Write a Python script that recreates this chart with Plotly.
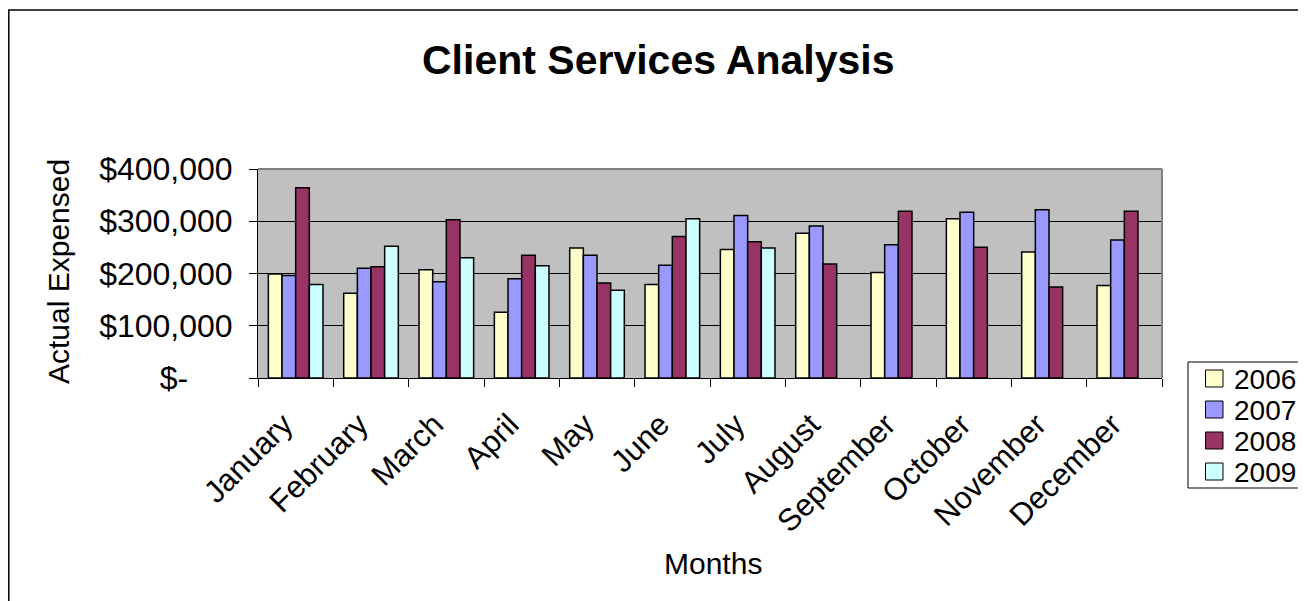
import plotly.graph_objects as go

months = ["January", "February", "March", "April", "May", "June", "July",
          "August", "September", "October", "November", "December"]
years = ["2006", "2007", "2008", "2009"]
v2006 = [199000, 162000, 207000, 126000, 249000, 179000, 246000, 277000, 202000, 305000, 241000, 177000]
v2007 = [196000, 210000, 184000, 190000, 235000, 216000, 311000, 291000, 255000, 317000, 322000, 264000]
v2008 = [364000, 213000, 303000, 235000, 182000, 271000, 261000, 218000, 319000, 250000, 174000, 319000]
v2009 = [179000, 252000, 230000, 215000, 168000, 305000, 249000, None, None, None, None, None]
colors = ["#FFFFCC", "#9999FF", "#993366", "#CCFFFF"]
ytickvals = [0, 100000, 200000, 300000, 400000]
yticktext = ["$-" + "\u00a0" * 5, "$100,000", "$200,000", "$300,000", "$400,000"]

OFF = 8  # page body margin
W, H = 1306 - OFF, 601 - OFF
# plot area in reference (window) pixels
PX0, PX1, PY0, PY1 = 258, 1162, 169, 378
L, R, T, B = PX0 - OFF, W - (PX1 - OFF), PY0 - OFF, H - (PY1 - OFF)
PW, PH = PX1 - PX0, PY1 - PY0

def px(x):
    return (x - PX0) / PW

def py(y):
    return (PY1 - y) / PH

fig = go.Figure()
for name, vals, c in zip(years, [v2006, v2007, v2008, v2009], colors):
    fig.add_trace(go.Bar(x=months, y=vals, name=name, showlegend=False,
                         marker=dict(color=c, line=dict(color="black", width=1.5))))

font = "Arial, Liberation Sans, sans-serif"

shapes = [
    dict(type="rect", xref="paper", yref="paper", x0=px(8.8), x1=px(1340),
         y0=py(640), y1=py(10), line=dict(color="black", width=1.5),
         fillcolor="rgba(0,0,0,0)", layer="below"),
    dict(type="line", xref="paper", yref="paper", x0=0, x1=1, y0=1, y1=1,
         line=dict(color="#808080", width=2)),
    dict(type="line", xref="paper", yref="paper", x0=1, x1=1, y0=0, y1=1,
         line=dict(color="#808080", width=2)),
    # legend box
    dict(type="rect", xref="paper", yref="paper", x0=px(1188), x1=px(1340),
         y0=py(488), y1=py(362), line=dict(color="black", width=1),
         fillcolor="white"),
]
annotations = [
    dict(text="<b>Client Services Analysis</b>", x=px(658), y=py(60),
         xref="paper", yref="paper", showarrow=False,
         xanchor="center", yanchor="middle", font=dict(size=41, family=font)),
    dict(text="Actual Expensed", x=px(58), y=py(272), textangle=-90,
         xref="paper", yref="paper", showarrow=False,
         xanchor="center", yanchor="middle", font=dict(size=30, family=font)),
    dict(text="Months", x=px(713), y=py(563),
         xref="paper", yref="paper", showarrow=False,
         xanchor="center", yanchor="middle", font=dict(size=30, family=font)),
]
# legend entries
for i, (name, c) in enumerate(zip(years, colors)):
    cy = 378.5 + i * 31
    shapes.append(dict(type="rect", xref="paper", yref="paper",
                       x0=px(1205.5), x1=px(1223), y0=py(cy + 8.5), y1=py(cy - 8.5),
                       line=dict(color="black", width=1), fillcolor=c))
    annotations.append(dict(text=name, x=px(1232), y=py(cy + 1),
                            xref="paper", yref="paper", showarrow=False,
                            xanchor="left", yanchor="middle",
                            font=dict(size=28, family=font)))

fig.update_layout(
    width=W, height=H,
    margin=dict(l=L, r=R, t=T, b=B, autoexpand=False),
    paper_bgcolor="white", plot_bgcolor="#C0C0C0",
    barmode="group", bargap=0.275, bargroupgap=0,
    font=dict(family=font, color="black"),
    showlegend=False,
    xaxis=dict(showline=True, linecolor="black", linewidth=1,
               ticks="outside", tickson="boundaries", ticklen=8, tickcolor="black",
               tickangle=-45, tickfont=dict(size=31, family=font),
               ticklabelstandoff=15, ticklabelshift=-12,
               automargin=False, showgrid=False),
    yaxis=dict(range=[0, 400000], tickvals=ytickvals, ticktext=yticktext,
               showline=True, linecolor="black", linewidth=1,
               ticks="outside", ticklen=8, tickcolor="black",
               tickfont=dict(size=32, family=font), ticklabelstandoff=10,
               showgrid=True, gridcolor="black", gridwidth=1,
               automargin=False, zeroline=False),
    shapes=shapes,
    annotations=annotations,
)

fig.write_html("out.html")
